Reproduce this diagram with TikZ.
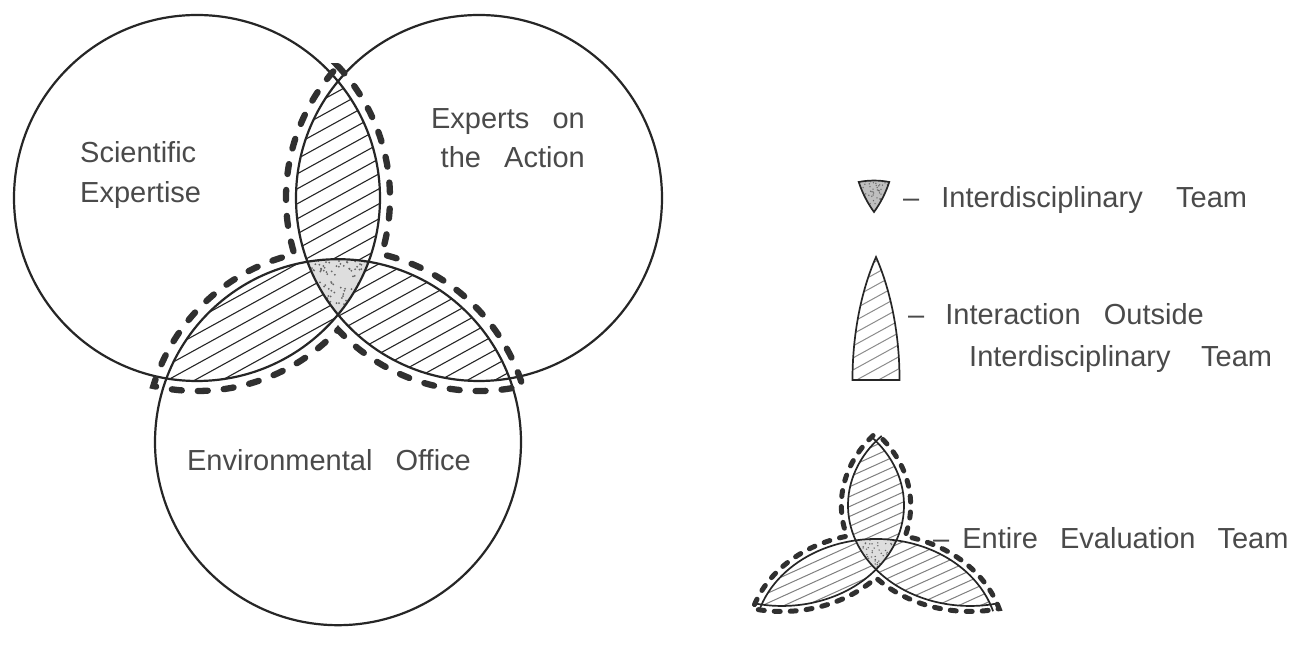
\documentclass[tikz,border=0pt]{standalone}
\usepackage{fontspec}
\setmainfont{Liberation Sans}
\definecolor{ink}{HTML}{262626}
\definecolor{txt}{HTML}{4A4A4A}
\definecolor{dashcol}{HTML}{303030}
\newcommand\ws{\hspace{0.8em}}
\newcommand\hatchlines[3]{\foreach \i in {0,...,#3}{\draw[hatchline] (-260,{-600+\i*#1}) -- (260,{-600+\i*#1+520*#2});}}
\newcommand\dashpath{(0,\Ty) arc[start angle=\aA,end angle=\aB,radius=\rd] arc[start angle=\aC,end angle=\aD,radius=\rd] arc[start angle=\aE,end angle=\aF,radius=\rd] arc[start angle=\aG,end angle=\aH,radius=\rd] arc[start angle=\aI,end angle=\aJ,radius=\rd] arc[start angle=\aK,end angle=\aL,radius=\rd] -- cycle}
\newcommand\triplepath{(\tx,\ty) arc[start angle=\tA,end angle=\tB,radius=183] arc[start angle=\tC,end angle=\tD,radius=183] arc[start angle=\tE,end angle=\tF,radius=183] -- cycle}
\begin{document}
\begin{tikzpicture}[x=1pt,y=1pt,
  circ/.style={draw=ink,line width=2.2pt},
  lensline/.style={draw=ink,line width=1.7pt},
  dashmain/.style={draw=dashcol,line width=6.3pt,line cap=round,dash pattern=on 10pt off 16pt,dash phase=19pt},
  dashleg/.style={draw=dashcol,line width=5pt,line cap=round,dash pattern=on 6pt off 10pt,dash phase=12pt},
  stipfill/.style={fill=black!13},
  stipdot/.style={fill=black!60},
  lbl/.style={inner sep=0pt,text=txt,font=\fontsize{29}{34}\selectfont}]
\useasboundingbox (0,0) rectangle (1298,647);
\fill[white] (0,0) rectangle (1298,647);
\def\rd{193}
\pgfmathsetmacro\az{acos(141/183)}
\pgfmathsetmacro\ap{acos(141/\rd)}
\pgfmathsetmacro\Ty{81.4+\rd*sin(\ap)}
\pgfmathsetmacro\aA{180-\ap}\pgfmathsetmacro\aB{240-\ap}
\pgfmathsetmacro\aC{60+\ap}\pgfmathsetmacro\aD{120+\ap}
\pgfmathsetmacro\aE{-60-\ap}\pgfmathsetmacro\aF{-\ap}
\pgfmathsetmacro\aG{180+\ap}\pgfmathsetmacro\aH{240+\ap}
\pgfmathsetmacro\aI{60-\ap}\pgfmathsetmacro\aJ{120-\ap}
\pgfmathsetmacro\aK{\ap-60}\pgfmathsetmacro\aL{\ap}
\pgfmathsetmacro\tA{60+\az}\pgfmathsetmacro\tB{120-\az}
\pgfmathsetmacro\tC{\az-60}\pgfmathsetmacro\tD{-\az}
\pgfmathsetmacro\tE{180+\az}\pgfmathsetmacro\tF{240-\az}
\pgfmathsetmacro\tx{183*cos(\tA)}\pgfmathsetmacro\ty{-162.8+183*sin(\tA)}
\pgfmathsetmacro\sL{\az+4}\pgfmathsetmacro\eL{-64-\az}
\pgfmathsetmacro\sR{176-\az}\pgfmathsetmacro\eR{244+\az}
\pgfmathsetmacro\sB{124+\az}\pgfmathsetmacro\eB{56-\az}
% ---------- main diagram ----------
\begin{scope}[shift={(338,367.6)}]
  \coordinate (mL) at (-141,81.4);
  \coordinate (mR) at (141,81.4);
  \coordinate (mB) at (0,-162.8);
  \begin{scope}[hatchline/.style={draw=ink,line width=1.1pt}]
    \begin{scope}\clip (-141,81.4) circle (183); \clip (141,81.4) circle (183); \hatchlines{15}{0.55}{70}\end{scope}
    \begin{scope}\clip (-141,81.4) circle (183); \clip (0,-162.8) circle (183); \hatchlines{15}{0.55}{70}\end{scope}
    \begin{scope}\clip (141,81.4) circle (183); \clip (0,-162.8) circle (183); \hatchlines{15}{0.55}{70}\end{scope}
  \end{scope}
  \begin{scope}
    \clip \triplepath;
    \fill[white] (-50,-50) rectangle (50,50);
    \fill[stipfill] (-50,-50) rectangle (50,50);
    \pgfmathsetseed{12}
    \foreach \i in {1,...,130}{\fill[stipdot] ({-32+64*rnd},{-37+56*rnd}) circle (1.0);}
  \end{scope}
  \draw[circ] (mL) circle (183);
  \draw[circ] (mR) circle (183);
  \draw[circ] (mB) circle (183);
  \draw[dashmain] \dashpath;
\end{scope}
\node[lbl,anchor=base west] (sci1) at (80,484.6) {Scientific};
\node[lbl,anchor=base west] (sci2) at (80,444.6) {Expertise};
\node[lbl,anchor=base east] (exp1) at (585,518.6) {Experts\ws on};
\node[lbl,anchor=base east] (exp2) at (585,479.6) {the\ws Action};
\node[lbl,anchor=base] (env) at (329,176.6) {Environmental\ws Office};
% ---------- legend icon 1: interdisciplinary team ----------
\begin{scope}[shift={(874,455)},xscale=0.5,yscale=0.567]
  \coordinate (i1) at (0,0);
  \begin{scope}
    \clip \triplepath;
    \fill[white] (-50,-50) rectangle (50,50);
    \fill[fill=black!25] (-50,-50) rectangle (50,50);
    \pgfmathsetseed{5}
    \foreach \i in {1,...,70}{\fill[stipdot] ({-32+64*rnd},{-37+56*rnd}) circle (1.4);}
  \end{scope}
  \draw[lensline] \triplepath;
\end{scope}
\node[lbl,anchor=base west] (leg1) at (903,439.6) {–\hspace{22pt}Interdisciplinary\hspace{1.15em}Team};
% ---------- legend icon 2: interaction outside ----------
\begin{scope}[shift={(876,181.2)},xscale=0.56,yscale=1.054]
  \coordinate (i2) at (0,140);
  \begin{scope}[hatchline/.style={draw=black!45,line width=1pt}]
    \clip (-42,81.4) arc[start angle=180,end angle={180-\az},radius=183] arc[start angle=\az,end angle=0,radius=183] -- cycle;
    \hatchlines{11.4}{0.292}{90}
  \end{scope}
  \draw[lensline] (-42,81.4) arc[start angle=180,end angle={180-\az},radius=183] arc[start angle=\az,end angle=0,radius=183] -- cycle;
\end{scope}
\node[lbl,anchor=base west] (leg2a) at (908,322.6) {–\hspace{21pt}Interaction\ws Outside};
\node[lbl,anchor=base west] (leg2b) at (969,280.6) {Interdisciplinary\hspace{1.05em}Team};
% ---------- legend icon 3: entire evaluation team ----------
\begin{scope}[shift={(876,96.9)},xscale=0.667,yscale=0.55]
  \coordinate (gL) at (-141,81.4);
  \coordinate (gR) at (141,81.4);
  \coordinate (gB) at (0,-162.8);
  \begin{scope}[hatchline/.style={draw=black!50,line width=1pt}]
    \begin{scope}\clip (-141,81.4) circle (183); \clip (141,81.4) circle (183); \hatchlines{18}{0.55}{60}\end{scope}
    \begin{scope}\clip (-141,81.4) circle (183); \clip (0,-162.8) circle (183); \hatchlines{18}{0.55}{60}\end{scope}
    \begin{scope}\clip (141,81.4) circle (183); \clip (0,-162.8) circle (183); \hatchlines{18}{0.55}{60}\end{scope}
  \end{scope}
  \begin{scope}
    \clip \triplepath;
    \fill[white] (-50,-50) rectangle (50,50);
    \fill[stipfill] (-50,-50) rectangle (50,50);
    \pgfmathsetseed{9}
    \foreach \i in {1,...,80}{\fill[stipdot] ({-32+64*rnd},{-37+56*rnd}) circle (1.3);}
  \end{scope}
  \draw[lensline] ({-141+183*cos(\sL)},{81.4+183*sin(\sL)}) arc[start angle=\sL,end angle=\eL,radius=183];
  \draw[lensline] ({141+183*cos(\sR)},{81.4+183*sin(\sR)}) arc[start angle=\sR,end angle=\eR,radius=183];
  \draw[lensline] ({183*cos(\sB)},{-162.8+183*sin(\sB)}) arc[start angle=\sB,end angle=\eB,radius=183];
  \draw[dashleg] \dashpath;
\end{scope}
\node[lbl,anchor=base west] (leg3) at (933,98.6) {–\hspace{13pt}Entire\hspace{0.76em}Evaluation\hspace{0.76em}Team};
\end{tikzpicture}
\end{document}
